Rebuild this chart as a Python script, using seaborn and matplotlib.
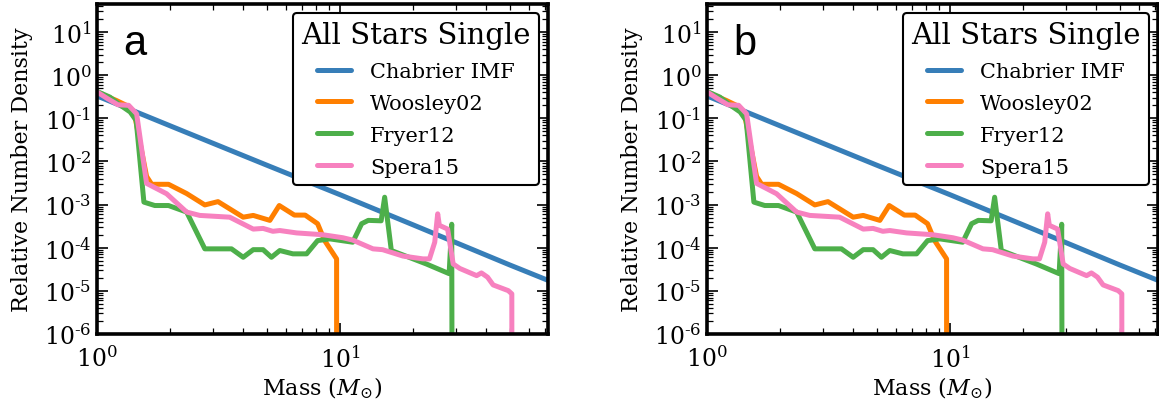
import matplotlib
matplotlib.use("Agg")
import matplotlib.pyplot as plt
import matplotlib.ticker as mticker
import seaborn as sns
import numpy as np
import pandas as pd

# Relative number density vs. mass for the IMF and three remnant prescriptions
chabrier_mass = [1.0, 2.0, 5.0, 10.0, 20.0, 50.0, 72.0]
chabrier_density = [0.33, 0.067, 0.0082, 0.0017, 3.4e-4, 4.0e-5, 1.75e-5]

woosley_mass = [1.0, 1.1, 1.2, 1.32, 1.43, 1.6, 1.68, 1.97, 2.34, 2.78, 3.15,
                4.0, 4.4, 5.15, 5.63, 6.5, 7.2, 8.1, 8.66, 9.7, 9.7]
woosley_density = [0.40, 0.32, 0.26, 0.20, 0.116, 4.5e-3, 2.95e-3, 2.95e-3,
                   1.8e-3, 9.8e-4, 1.17e-3, 5.1e-4, 5.6e-4, 4.3e-4, 9.5e-4,
                   5.7e-4, 5.7e-4, 3.6e-4, 1.46e-4, 5.5e-5, 1e-12]

fryer_mass = [1.0, 1.13, 1.25, 1.37, 1.45, 1.56, 1.73, 1.97, 2.34, 2.78, 3.58,
              4.0, 4.4, 4.83, 5.23, 5.66, 6.41, 7.3, 8.1, 9.1, 11.3, 12.3,
              13.1, 14.8, 15.3, 16.3, 22.7, 28.2, 28.9, 29.1]
fryer_density = [0.42, 0.31, 0.20, 0.14, 0.089, 1.14e-3, 9.5e-4, 9.5e-4,
                 6.7e-4, 9.4e-5, 9.4e-5, 6.0e-5, 9.0e-5, 9.0e-5, 6.0e-5,
                 8.6e-5, 7.2e-5, 7.2e-5, 1.46e-4, 1.6e-4, 1.34e-4, 3.6e-4,
                 4.3e-4, 4.2e-4, 1.48e-3, 8.6e-5, 4.2e-5, 2.5e-5, 3.5e-4, 1e-12]

spera_mass = [1.0, 1.1, 1.22, 1.35, 1.456, 1.60, 1.935, 2.34, 2.65, 3.52, 4.4,
              4.83, 5.3, 5.66, 6.64, 8.5, 10.3, 11.3, 13.7, 15.0, 18.2, 22.0,
              23.4, 24.6, 25.3, 25.7, 27.8, 29.3, 31.2, 36.6, 38.3, 40.6, 42.8,
              49.4, 51.1, 51.2]
spera_density = [0.41, 0.29, 0.206, 0.20, 0.127, 3.1e-3, 1.78e-3, 6.7e-4,
                 5.6e-4, 5.1e-4, 2.7e-4, 2.8e-4, 2.4e-4, 2.5e-4, 2.2e-4,
                 2.0e-4, 1.7e-4, 1.5e-4, 9.4e-5, 9.0e-5, 6.4e-5, 5.5e-5,
                 5.5e-5, 1.34e-4, 6.1e-4, 3.3e-4, 2.7e-4, 4.2e-5, 3.3e-5,
                 2.25e-5, 2.6e-5, 2.07e-5, 1.37e-5, 1.01e-5, 8.5e-6, 1e-12]

series_names = ["Chabrier IMF", "Woosley02", "Fryer12", "Spera15"]
panel_letters = ["a", "b"]
legend_title = "All Stars Single"

sns.set_theme(style="ticks")
plt.rcParams["font.family"] = ["DejaVu Serif"]
plt.rcParams["mathtext.fontset"] = "dejavuserif"
for key in ["text.color", "axes.labelcolor", "xtick.color", "ytick.color",
            "xtick.labelcolor", "ytick.labelcolor"]:
    plt.rcParams[key] = "black"

set1 = sns.color_palette("Set1")
colors = [set1[1], set1[4], set1[2], set1[7]]

frames = []
for name, m, d in zip(series_names,
                      [chabrier_mass, woosley_mass, fryer_mass, spera_mass],
                      [chabrier_density, woosley_density, fryer_density, spera_density]):
    frames.append(pd.DataFrame({"mass": m, "density": d, "model": name}))
data = pd.concat(frames, ignore_index=True)


def power_label(value, pos):
    # decade labels written as 10^n with a short hyphen for negative powers
    exp = int(round(np.log10(value)))
    if exp < 0:
        return r"$10^{\text{-}%d}$" % (-exp)
    return r"$10^{%d}$" % exp


fig = plt.figure(figsize=(11.59, 4.06), dpi=100)
ax_a = fig.add_axes([0.0837, 0.175, 0.3891, 0.813])
ax_b = fig.add_axes([0.6100, 0.175, 0.3891, 0.813])

for ax, letter in zip([ax_a, ax_b], panel_letters):
    ax.set_xscale("log")
    ax.set_yscale("log")
    for name, col in zip(series_names, colors):
        sub = data[data["model"] == name]
        sns.lineplot(x=sub["mass"], y=sub["density"], ax=ax, color=col,
                     linewidth=3.6, sort=False, estimator=None, label=name)
    ax.set_xlim(1, 72)
    ax.set_ylim(1e-6, 45)
    ax.yaxis.set_major_locator(mticker.LogLocator(base=10, numticks=20))
    ax.yaxis.set_minor_locator(mticker.LogLocator(base=10, subs=range(2, 10), numticks=20))
    ax.yaxis.set_major_formatter(mticker.FuncFormatter(power_label))
    ax.xaxis.set_major_formatter(mticker.FuncFormatter(power_label))
    ax.yaxis.set_minor_formatter(mticker.NullFormatter())
    ax.xaxis.set_minor_formatter(mticker.NullFormatter())
    ax.tick_params(which="both", direction="in", top=True, right=True,
                   labelsize=17, color="black")
    ax.tick_params(which="major", length=8, width=1.2)
    ax.tick_params(axis="y", which="major", pad=4)
    ax.tick_params(axis="x", which="major", pad=8)
    ax.tick_params(which="minor", length=4, width=0.9)
    for sp in ax.spines.values():
        sp.set_linewidth(2.6)
        sp.set_color("black")
    ax.set_xlabel(r"Mass ($M_{\odot}$)", fontsize=16, labelpad=2)
    ax.set_ylabel("Relative Number Density", fontsize=16, labelpad=8)
    ax.text(0.058, 0.848, letter, transform=ax.transAxes, fontsize=30,
            family=["Liberation Sans"], ha="left", va="baseline")
    leg = ax.legend(title=legend_title, loc="upper right", fontsize=15,
                    title_fontsize=21, fancybox=True, framealpha=1,
                    edgecolor="black", handlelength=1.6, handletextpad=0.95,
                    labelspacing=0.62, borderaxespad=0.42)
    leg.get_frame().set_linewidth(1.5)
    for ln in leg.get_lines():
        ln.set_linewidth(3.6)

fig.savefig("out.png", dpi=100)
